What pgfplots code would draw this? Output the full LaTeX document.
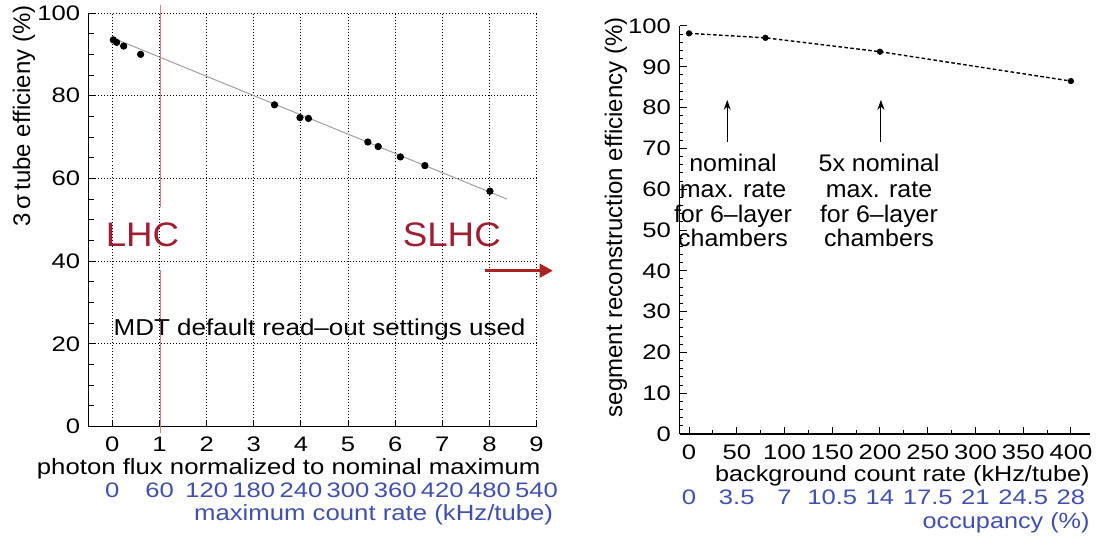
\documentclass[border=0pt]{standalone}
\usepackage{fontspec}
\setmainfont{Liberation Sans}
\usepackage{pgfplots}
\usepackage{pgfplotstable}
\pgfplotsset{compat=1.18}
\usetikzlibrary{arrows.meta}

\definecolor{lhcred}{RGB}{160,30,50}
\definecolor{linered}{RGB}{222,125,135}
\definecolor{arrred}{RGB}{170,35,35}
\definecolor{occblue}{RGB}{65,80,175}

% 3 sigma tube efficiency vs normalized photon flux
\pgfplotstableread{
x y
0.02 93.5
0.09 92.9
0.24 92.0
0.60 90.0
3.44 77.8
3.98 74.7
4.16 74.5
5.42 68.8
5.64 67.7
6.11 65.2
6.63 63.1
8.01 56.9
}\tubeeff

% segment reconstruction efficiency vs background rate
\pgfplotstableread{
x y
0 98.2
80 97.1
200 93.7
400 86.5
}\segeff

\begin{document}
\begin{tikzpicture}[
  tlbl/.style={font=\fontsize{10.5}{12}\selectfont, xscale=1.22},
  albl/.style={font=\fontsize{11}{13}\selectfont, xscale=1.17, inner sep=0pt},
  note/.style={font=\fontsize{12}{14}\selectfont, xscale=1.04, inner sep=0pt, anchor=base},
]
\path[use as bounding box] (0,0) rectangle (548pt,268pt);

% ---- left panel
\begin{axis}[
  at={(44.4pt,54.75pt)}, anchor=south west,
  scale only axis, width=223.9pt, height=206.75pt,
  xmin=-0.5, xmax=9, ymin=0, ymax=100,
  axis x line=bottom, axis y line=left,
  axis line style={-, black, line width=0.6pt},
  xtick={0,...,9}, ytick={0,20,...,100}, minor y tick num=3,
  tick align=inside, major tick length=3pt, minor tick length=2.5pt,
  tick style={black, line width=0.5pt},
  grid=major, grid style={black, line width=0.5pt, dash pattern=on 0.5pt off 1pt},
  tick label style={tlbl},
  /pgf/number format/assume math mode=true,
  xticklabel style={anchor=base, yshift=-12.7pt},
  clip=false,
]
\addplot[gray!75, line width=0.5pt] coordinates {(0,94.0) (8.37,55.0)};
\addplot[only marks, mark=*, mark size=1.6pt, black] table {\tubeeff};

\draw[linered, line width=0.6pt] (axis cs:1.02,101.9) -- (axis cs:1.02,53.1);
\draw[linered, line width=0.6pt] (axis cs:1.02,37.9) -- (axis cs:1.02,-1.6);

\node[albl, anchor=base east] at ([xshift=2.2pt, yshift=-23.75pt]rel axis cs:1,0)
  {photon flux normalized to nominal maximum};
\foreach \x/\l in {0/0,1/60,2/120,3/180,4/240,5/300,6/360,7/420,8/480,9/540}{
  \edef\temp{\noexpand\node[tlbl, text=occblue, anchor=base] at ([yshift=-35.25pt]axis cs:\x,0) {\l};}
  \temp
}
\node[albl, text=occblue, anchor=base east] at ([xshift=8.5pt, yshift=-46.75pt]rel axis cs:1,0)
  {maximum count rate (kHz/tube)};
\end{axis}

% ---- right panel
\begin{axis}[
  at={(339.75pt,51pt)}, anchor=south west,
  scale only axis, width=205.25pt, height=204pt,
  xmin=-10, xmax=420, ymin=0, ymax=100,
  axis x line=bottom, axis y line=left,
  axis line style={-, black, line width=0.6pt},
  xtick={0,50,...,400}, minor x tick num=1,
  ytick={0,10,...,100}, minor y tick num=4,
  tick align=inside, major tick length=3.5pt, minor tick length=1.8pt,
  tick style={black, line width=0.5pt},
  tick label style={tlbl},
  /pgf/number format/assume math mode=true,
  xticklabel style={anchor=base, yshift=-12.6pt},
  clip=false,
]
\addplot[black, line width=0.7pt, dash pattern=on 1.8pt off 1.2pt,
  mark=*, mark size=1.2pt, mark options={solid}] table {\segeff};

\draw[-{Stealth[length=5pt,width=3.5pt]}, line width=0.5pt] (axis cs:40,71.6) -- (axis cs:40,81.9);
\draw[-{Stealth[length=5pt,width=3.5pt]}, line width=0.5pt] (axis cs:201,71.6) -- (axis cs:201,81.9);

\node[albl, xscale=0.98, anchor=base east] at ([yshift=-23.85pt]rel axis cs:1,0)
  {background count rate (kHz/tube)};
\foreach \x/\l in {0/0,50/3.5,100/7,150/10.5,200/14,250/17.5,300/21,350/24.5,400/28}{
  \edef\temp{\noexpand\node[tlbl, text=occblue, anchor=base] at ([yshift=-35pt]axis cs:\x,0) {\l};}
  \temp
}
\node[albl, xscale=0.98, text=occblue, anchor=base east] at ([yshift=-47pt]rel axis cs:1,0)
  {occupancy (\%)};
\end{axis}

% axis titles on the y side
\node[rotate=90, anchor=base east, inner sep=0pt, font=\fontsize{12}{14}\selectfont]
  at (15pt,265.5pt) {3\,σ\,tube efficieny (\%)};
\node[rotate=90, anchor=base east, inner sep=0pt, font=\fontsize{12}{14}\selectfont]
  at (311pt,259.5pt) {segment reconstruction efficiency (\%)};

% left panel annotations
\node[lhcred, font=\fontsize{17}{19}\selectfont, xscale=1.08, anchor=base, inner sep=0pt]
  at (71.25pt,145pt) {LHC};
\node[lhcred, font=\fontsize{17}{19}\selectfont, xscale=1.08, anchor=base, inner sep=0pt]
  at (225.9pt,145pt) {SLHC};
\node[font=\fontsize{11.5}{13}\selectfont, xscale=1.13, anchor=base, inner sep=0pt]
  at (159.8pt,100.5pt) {MDT default read--out settings used};
\draw[arrred, line width=1.65pt, -{Triangle[length=6.7pt,width=6.7pt]}]
  (242.5pt,132.65pt) -- (276.5pt,132.65pt);

% right panel annotations
\node[note] at (366.5pt,182.15pt) {nominal};
\node[note] at (366.5pt,169.35pt) {max. rate};
\node[note] at (366.5pt,156.65pt) {for 6--layer};
\node[note] at (366.5pt,144.65pt) {chambers};
\node[note] at (439.5pt,182.15pt) {5x nominal};
\node[note] at (439.5pt,169.35pt) {max. rate};
\node[note] at (439.5pt,156.65pt) {for 6--layer};
\node[note] at (439.5pt,144.65pt) {chambers};
\end{tikzpicture}
\end{document}
